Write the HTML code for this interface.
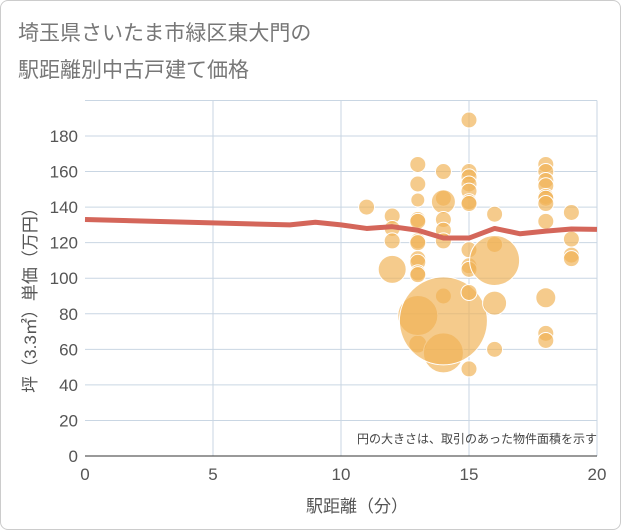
<!DOCTYPE html>
<html><head><meta charset="utf-8"><style>
body{margin:0;background:#fff;}
#card{position:absolute;left:0;top:0;width:619px;height:528px;border:1px solid #ccc;border-radius:8px;background:#fff;font-family:"Liberation Sans","Noto Sans CJK JP",sans-serif;}
</style></head><body>
<div id="card">
<svg id="chart" width="621" height="530" style="position:absolute;left:-1px;top:-1px">
<text x="18" y="40" font-size="21" fill="#777" font-family="Liberation Sans,Noto Sans CJK JP,sans-serif">埼玉県さいたま市緑区東大門の</text>
<text x="18" y="77" font-size="21" fill="#777" font-family="Liberation Sans,Noto Sans CJK JP,sans-serif">駅距離別中古戸建て価格</text>
<g id="grid"></g><g id="bubbles"></g><g id="line"></g><g id="axes"></g>
<text x="597" y="443" font-size="12" fill="#444" text-anchor="end" font-family="Liberation Sans,Noto Sans CJK JP,sans-serif">円の大きさは、取引のあった物件面積を示す</text>
<text x="357" y="512" font-size="17" fill="#555" text-anchor="middle" font-family="Liberation Sans,Noto Sans CJK JP,sans-serif">駅距離（分）</text>
<text transform="translate(36,296) rotate(-90)" font-size="17" fill="#555" text-anchor="middle" font-family="Liberation Sans,Noto Sans CJK JP,sans-serif">坪（3.3㎡）単価（万円）</text>
</svg></div>
<script>
const xTicks=[0,5,10,15,20];
const yTicks=[0,20,40,60,80,100,120,140,160,180];
const bubbleX=[11,12,12,12,12,13,13,13,13,13,13,13,13,13,13,13,13,13,14,14,14,14,14,14,14,14,14,15,15,15,15,15,15,15,15,15,15,15,15,16,16,16,16,16,18,18,18,18,18,18,18,18,18,18,18,19,19,19,19];
const bubbleY=[140,135,128,121,105,164,153,144,133,132,121,111,109,103,102,120,63,79,160,145,143,133,127,121,90,58,76,189,160,157,153,149,143,142,116,107,105,92,49,136,119,110,86,60,164,160,155,152,146,145,142,132,89,69,65,137,122,113,111];
const bubbleR=[8,8,8,8,14,8,8,7,8,8,8,8,8,8,8,8,9,20,8,8,12,8,8,8,8,20,44,8,8,8,8,8,8,8,8,8,8,8,8,8,8,25,12,8,8,8,8,8,8,8,8,8,10,8,8,8,8,8,8];
const lineX=[0,8,9,10,11,12,13,14,15,16,17,18,19,20];
const lineY=[133,130,131.5,130,128,129,127,122.6,122.6,128,125,126.5,127.7,127.5];
const X0=85,X1=597,Y0=456,PPU=320/180;
const sx=v=>X0+(X1-X0)*v/20, sy=v=>Y0-v*PPU;
const NS="http://www.w3.org/2000/svg";
function mk(t,p,a){const e=document.createElementNS(NS,t);for(const k in a)e.setAttribute(k,a[k]);document.getElementById(p).appendChild(e);return e;}
for(const v of [...yTicks,200]){if(v===0)continue;
const e=mk('line','grid',{x1:X0,x2:X1,y1:sy(v),y2:sy(v),stroke:'#c9d6e3','stroke-width':1});

}
for(const v of xTicks){if(v===0)continue;
const e=mk('line','grid',{x1:sx(v),x2:sx(v),y1:sy(200),y2:Y0,stroke:'#c9d6e3','stroke-width':1});

}
bubbleX.forEach((x,i)=>{
const c=mk('circle','bubbles',{cx:sx(x),cy:sy(bubbleY[i]),r:bubbleR[i],fill:'rgba(240,178,85,0.68)',stroke:'#fff','stroke-width':1});

});
const pl=mk('polyline','line',{points:lineX.map((x,i)=>sx(x)+','+sy(lineY[i])).join(' '),fill:'none',stroke:'#d4665a','stroke-width':5,'stroke-linejoin':'round'});


const ax=mk('line','axes',{x1:X0,x2:X1,y1:Y0,y2:Y0,stroke:'#333','stroke-width':1});


xTicks.forEach(v=>{const t=mk('text','axes',{x:sx(v),y:480,'font-size':17,fill:'#555','text-anchor':'middle','font-family':'Liberation Sans,sans-serif'});t.textContent=v;

});
yTicks.forEach(v=>{const t=mk('text','axes',{x:78,y:sy(v)+6,'font-size':17,fill:'#555','text-anchor':'end','font-family':'Liberation Sans,sans-serif'});t.textContent=v;

});
</script>
</body></html>
